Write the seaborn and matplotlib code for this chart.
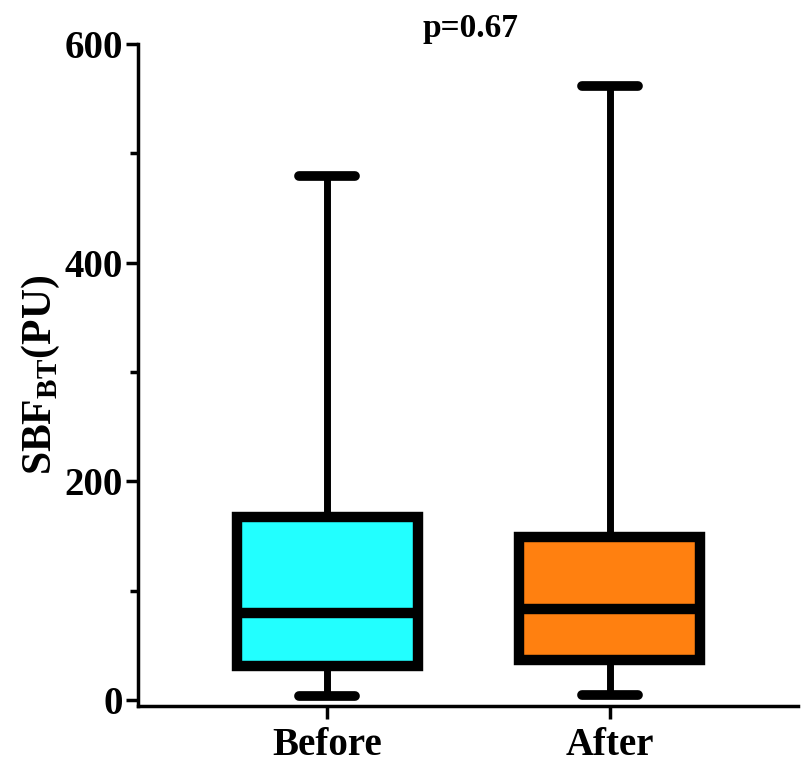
import matplotlib
matplotlib.use('Agg')
import matplotlib.pyplot as plt
import seaborn as sb
import numpy as np
import pandas as pd

# Five-number summaries (min, Q1, median, Q3, max)
groups = ["Before", "After"]
before_values = [4, 31, 80, 167, 479]
after_values = [5, 37, 83, 149, 562]
box_colors = ["#22FFFF", "#FF8010"]
p_text = "p=0.67"

df = pd.DataFrame({
    "group": [groups[0]] * len(before_values) + [groups[1]] * len(after_values),
    "value": before_values + after_values,
})

sb.set_style("ticks")
plt.rcParams['font.family'] = ['Liberation Serif', 'DejaVu Serif']
plt.rcParams['font.weight'] = 'bold'
plt.rcParams['text.color'] = 'black'
plt.rcParams['axes.labelcolor'] = 'black'
plt.rcParams['xtick.color'] = 'black'
plt.rcParams['ytick.color'] = 'black'
plt.rcParams['axes.edgecolor'] = 'black'
plt.rcParams['mathtext.fontset'] = 'custom'
plt.rcParams['mathtext.rm'] = 'Liberation Serif:bold'
plt.rcParams['mathtext.bf'] = 'Liberation Serif:bold'

fig = plt.figure(figsize=(8.09, 7.72), dpi=100, facecolor="white")
ax = fig.add_axes([0.171, 0.0855, 0.815, 0.8575])

lw = 7.5
sb.boxplot(data=df, x="group", y="value", hue="group", palette=box_colors, legend=False,
           saturation=1, whis=(0, 100), width=0.64, fliersize=0, ax=ax,
           boxprops={"edgecolor": "black", "linewidth": lw},
           medianprops={"color": "black", "linewidth": lw},
           whiskerprops={"color": "black", "linewidth": 5},
           capprops={"color": "black", "linewidth": 7, "solid_capstyle": "round"},
           capwidths=0.2)

ax.set_xlim(-0.668, 1.664)
ax.set_ylim(-5.5, 600)
ax.spines["left"].set_bounds(-5.5, 600)
ax.spines["top"].set_visible(False)
ax.spines["right"].set_visible(False)
for s in ["left", "bottom"]:
    ax.spines[s].set_linewidth(2.5)

ax.set_yticks([0, 200, 400, 600])
ax.set_yticks([100, 300, 500], minor=True)
ax.tick_params(axis="y", which="major", length=9, width=2.5, labelsize=28, pad=2)
ax.tick_params(axis="y", which="minor", length=6, width=2.5)
ax.tick_params(axis="x", length=9, width=2.5, labelsize=28, pad=6)
for lbl in ax.get_xticklabels() + ax.get_yticklabels():
    lbl.set_fontweight("bold")

ax.set_xlabel("")
ax.set_ylabel(r"SBF$_{\mathrm{BT}}$(PU)", fontsize=30, fontweight="bold", labelpad=2)

fig.text(0.581, 0.952, p_text, ha="center", va="baseline", fontsize=24, fontweight="bold")

fig.savefig("out.png", dpi=100, facecolor="white")
plt.close()
